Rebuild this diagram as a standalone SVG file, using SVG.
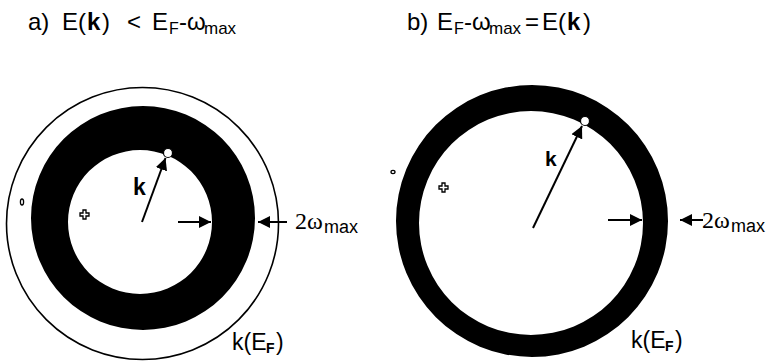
<svg xmlns="http://www.w3.org/2000/svg" width="779" height="363" viewBox="0 0 779 363">
<style>
text{font-family:"Liberation Sans",Arial,sans-serif;fill:#000}
.t{font-size:24px}
.sub{font-size:16px}
.b{font-weight:bold}
.ser{font-family:"Liberation Serif","Times New Roman",serif}
.line{stroke:#000;stroke-width:2;fill:none}
.thin{stroke:#000;stroke-width:1.6;fill:none}
.dot{fill:#fff;stroke:#000;stroke-width:1.2}
.mark{fill:#fff;stroke:#000;stroke-width:1.3}
</style>
<defs>
<marker id="ah" viewBox="0 0 10 10" refX="10" refY="5" markerWidth="6" markerHeight="6" orient="auto" markerUnits="strokeWidth">
<path d="M0,0 L10,5 L0,10 Z" fill="#000"/>
</marker>
</defs>
<rect width="779" height="363" fill="#fff"/>

<!-- titles -->
<text class="t" y="30"><tspan x="28">a)</tspan><tspan x="62">E(</tspan><tspan x="87" class="b">k</tspan><tspan x="102">)</tspan><tspan x="127">&lt;</tspan><tspan x="152">E</tspan><tspan x="169" class="sub" dy="4">F</tspan><tspan x="179" dy="-4">-</tspan><tspan x="187">ω</tspan><tspan x="204" dy="4" style="font-size:17px">max</tspan></text>
<text class="t" y="30"><tspan x="407">b)</tspan><tspan x="437">E</tspan><tspan x="454" class="sub" dy="4">F</tspan><tspan x="464" dy="-4">-</tspan><tspan x="472">ω</tspan><tspan x="489" dy="4" style="font-size:17px">max</tspan><tspan x="525" dy="-4">=</tspan><tspan x="542">E(</tspan><tspan x="567" class="b">k</tspan><tspan x="583">)</tspan></text>

<!-- panel a -->
<g id="panelA">
<circle cx="142.5" cy="223.5" r="136" class="thin"/>
<path d="M31,218 a112,112 0 1,0 224,0 a112,112 0 1,0 -224,0 Z M68,222 a72,72 0 1,1 144,0 a72,72 0 1,1 -144,0 Z" fill="#000" fill-rule="evenodd"/>
<ellipse cx="22" cy="202" rx="1.6" ry="3" class="mark"/>
<path d="M83,210 h3 v3 h3 v3 h-3 v3 h-3 v-3 h-3 v-3 h3 Z" class="mark"/>
<circle cx="168" cy="153" r="4.5" class="dot"/>
<text class="b" x="133" y="195" style="font-size:23px">k</text>
</g>
<g id="panelB">
<path d="M396,221 a136,136 0 1,0 272,0 a136,136 0 1,0 -272,0 Z M419,223 a112,112 0 1,1 224,0 a112,112 0 1,1 -224,0 Z" fill="#000" fill-rule="evenodd"/>
<ellipse cx="393" cy="172" rx="2" ry="1.6" class="mark"/>
<path d="M442,183 h3 v3 h3 v3 h-3 v3 h-3 v-3 h-3 v-3 h3 Z" class="mark"/>
<circle cx="585" cy="121" r="4.5" class="dot"/>
<text class="b" x="545" y="166" style="font-size:21px">k</text>
</g>

<g id="connectors">
<line x1="142" y1="222" x2="165.5" y2="158" class="line" marker-end="url(#ah)"/>
<line x1="178" y1="222" x2="211" y2="222" class="line" marker-end="url(#ah)"/>
<line x1="287" y1="222" x2="258" y2="222" class="line" marker-end="url(#ah)"/>
<line x1="533" y1="228" x2="582" y2="126" class="line" marker-end="url(#ah)"/>
<line x1="608" y1="220" x2="642" y2="220" class="line" marker-end="url(#ah)"/>
<line x1="703" y1="220" x2="680" y2="220" class="line" marker-end="url(#ah)"/>
</g>

<!-- labels -->
<text y="229"><tspan x="295" class="ser" style="font-size:24px">2ω</tspan><tspan x="324" dy="4" style="font-size:18px">max</tspan></text>
<text y="228"><tspan x="702" class="ser" style="font-size:24px">2ω</tspan><tspan x="731" dy="4" style="font-size:18px">max</tspan></text>
<text class="t" y="350" style="font-size:23px"><tspan x="232">k(E</tspan><tspan x="266" dy="3" style="font-size:14px;font-weight:bold">F</tspan><tspan x="276" dy="-3">)</tspan></text>
<text class="t" y="348" style="font-size:23px"><tspan x="631">k(E</tspan><tspan x="665" dy="3" style="font-size:14px;font-weight:bold">F</tspan><tspan x="675" dy="-3">)</tspan></text>
</svg>
